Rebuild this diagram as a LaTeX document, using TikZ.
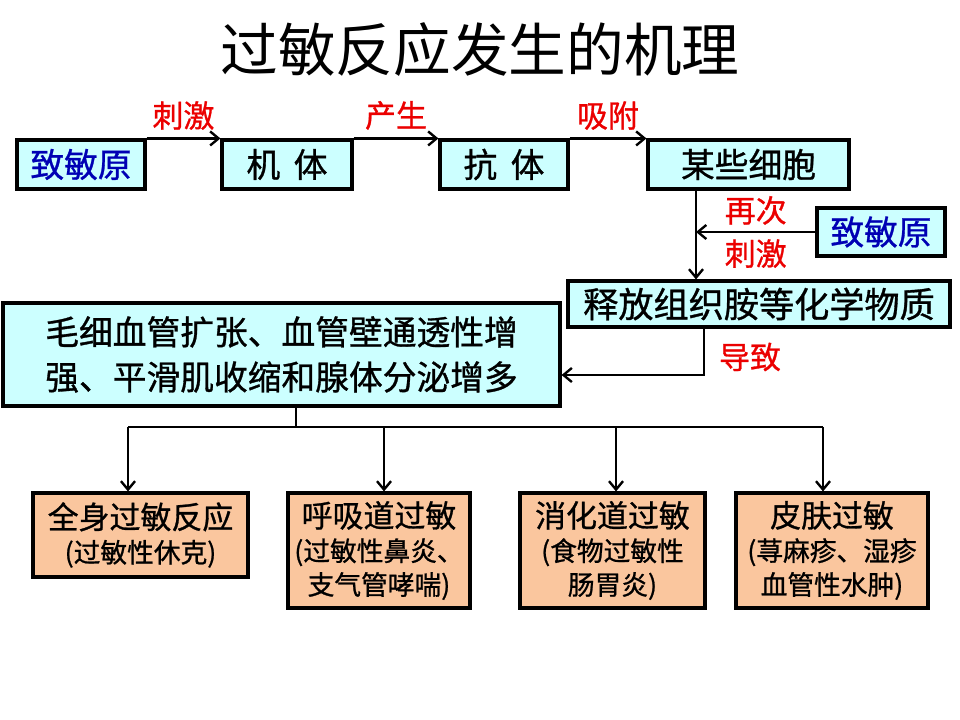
\documentclass[tikz,border=0pt]{standalone}
\usepackage{fontspec}
\setmainfont{Noto Sans CJK SC}
\newfontfamily\boxfont{Noto Sans CJK SC}[FakeBold=0.9]
\usetikzlibrary{arrows.meta}

\definecolor{boxcyan}{RGB}{204,255,255}
\definecolor{boxpeach}{RGB}{250,198,158}
\definecolor{labelred}{RGB}{235,0,0}
\definecolor{darkblue}{RGB}{0,0,180}
\newcommand{\pxu}{0.025cm}

\begin{document}
\begin{tikzpicture}
  [x=\pxu,y=-\pxu,
   cyanbox/.style={draw,line width=2.2pt,fill=boxcyan,inner sep=0pt,align=center,
     font=\boxfont\fontsize{24}{32}\selectfont},
   peachbox/.style={draw,line width=2.2pt,fill=boxpeach,inner sep=0pt,align=center,
     font=\boxfont\fontsize{19}{24}\selectfont},
   redlabel/.style={text=labelred,font=\boxfont\fontsize{22}{26}\selectfont},
   wire/.style={line width=1.7pt},
   link/.style={wire,-{Straight Barb[length=6pt,width=10pt]}}]
  \useasboundingbox (0,0) rectangle (960,720);

  \node (title) at (480,50) {\fontsize{41}{41}\selectfont 过敏反应发生的机理};

  % top row
  \node[cyanbox,text=darkblue,minimum width=128*\pxu,minimum height=49*\pxu] (allergen) at (81,164.5) {致敏原};
  \node[cyanbox,minimum width=130*\pxu,minimum height=49*\pxu] (body) at (287,164.5) {机\hspace{0.4em}体};
  \node[cyanbox,minimum width=128*\pxu,minimum height=49*\pxu] (antibody) at (504,164.5) {抗\hspace{0.4em}体};
  \node[cyanbox,minimum width=201*\pxu,minimum height=49*\pxu] (cells) at (748.5,164.5) {某些细胞};

  \node[cyanbox,text=darkblue,minimum width=128*\pxu,minimum height=48*\pxu] (allergen2) at (881,232) {致敏原};
  \node[cyanbox,font=\boxfont\fontsize{25}{32}\selectfont,minimum width=382*\pxu,minimum height=46*\pxu] (release) at (759,304) {释放组织胺等化学物质};
  \node[cyanbox,minimum width=557*\pxu,minimum height=103*\pxu] (effect) at (281.5,354.5)
    {毛细血管扩张、血管壁通透性增\\强、平滑肌收缩和腺体分泌增多};

  % bottom row
  \node[peachbox,minimum width=215*\pxu,minimum height=84*\pxu] (systemic) at (140.5,535)
    {{\fontsize{22}{24}\selectfont 全身过敏反应}\\(过敏性休克)};
  \node[peachbox,minimum width=182*\pxu,minimum height=115*\pxu] (airway) at (379,550.5)
    {{\fontsize{22}{24}\selectfont 呼吸道过敏}\\(过敏性鼻炎、\\支气管哮喘)};
  \node[peachbox,minimum width=185*\pxu,minimum height=115*\pxu] (digest) at (612.5,550.5)
    {{\fontsize{22}{24}\selectfont 消化道过敏}\\(食物过敏性\\肠胃炎)};
  \node[peachbox,minimum width=192*\pxu,minimum height=115*\pxu] (skin) at (832,550.5)
    {{\fontsize{22}{24}\selectfont 皮肤过敏}\\(荨麻疹、湿疹\\血管性水肿)};

  \foreach \from/\to/\word in {allergen/body/刺激,body/antibody/产生,antibody/cells/吸附}
    \draw[link] (\from.north east) -- (\to.north west)
      node[redlabel,midway,above=2pt] (lbl-\from) {\word};

  \coordinate (split) at (696,232);
  \draw[link] (split |- cells.south) -- (split |- release.north);
  \draw[link] (allergen2.west) -- (split)
    node[redlabel,midway,above=1pt] (again) {再次}
    node[redlabel,midway,below=1pt] (restim) {刺激};

  \coordinate (turn) at (704,375);
  \draw[link] (turn |- release.south) -- (turn) -- (turn -| effect.east);
  \node[redlabel] (cause) at (750,357) {导致};

  \coordinate (stem) at (296,427);
  \draw[wire] (stem |- effect.south) -- (stem);
  \foreach \x/\to in {128/systemic,384/airway,616/digest,823/skin}
    \coordinate (bus-\to) at (\x,427);
  \draw[wire] (bus-systemic) -- (bus-skin);
  \foreach \to in {systemic,airway,digest,skin}
    \draw[link] (bus-\to) -- (bus-\to |- \to.north);

\end{tikzpicture}
\end{document}
